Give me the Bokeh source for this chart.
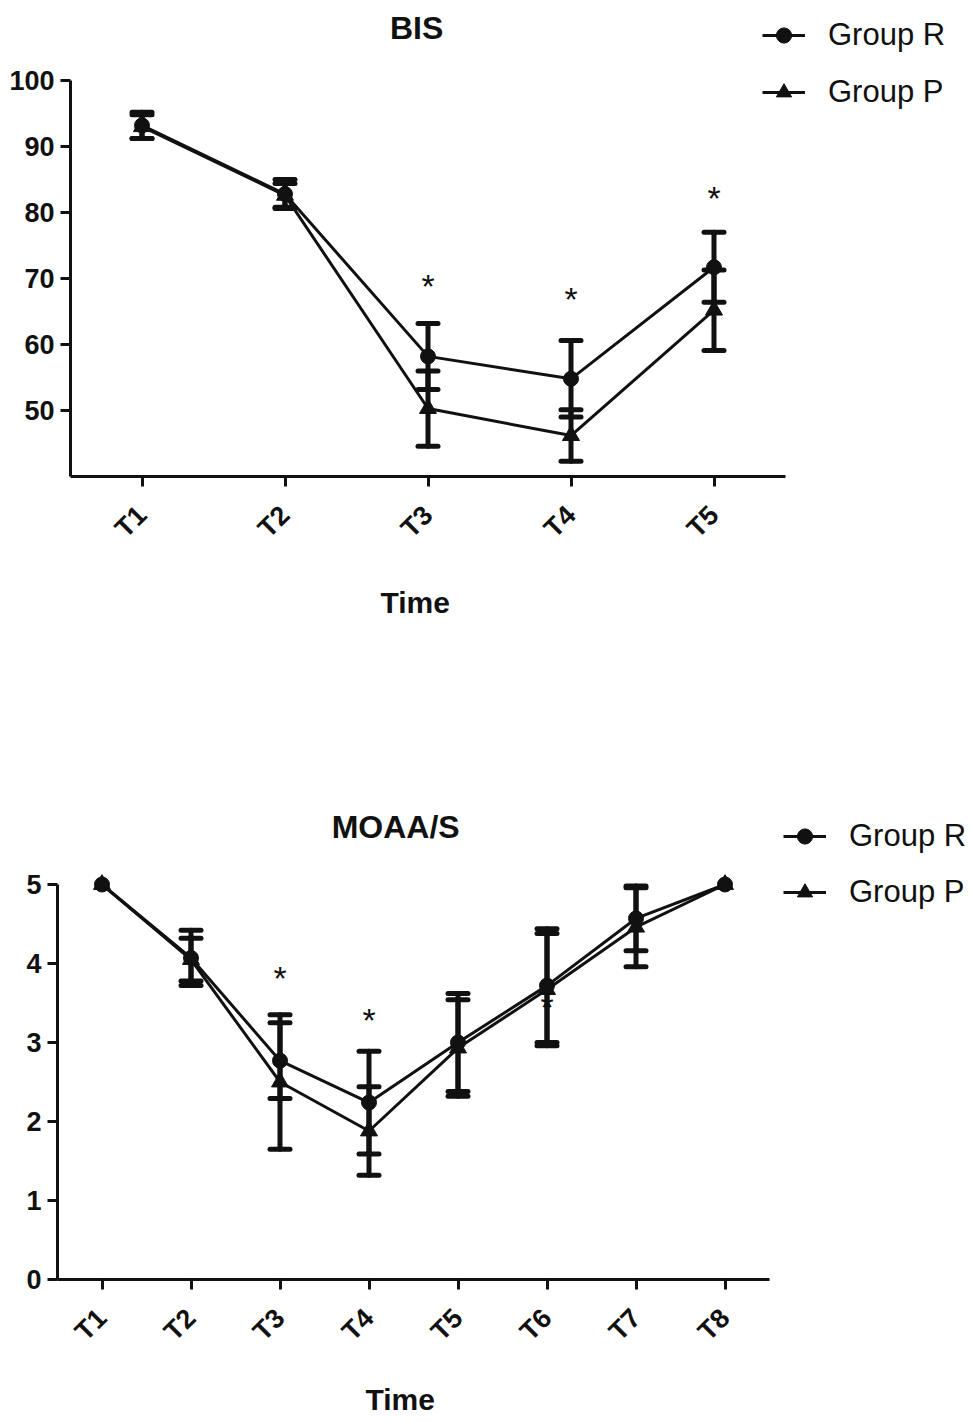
import math
from bokeh.plotting import figure
from bokeh.models import (ColumnDataSource, Whisker, TeeHead, Legend, LegendItem,
                          FixedTicker, Range1d, Label, Title)
from bokeh.embed import file_html
from bokeh.resources import INLINE
from bokeh.core.properties import value

# ---------------- data ----------------
bis_cats = ["T1", "T2", "T3", "T4", "T5"]
bis_r = [93.2, 82.8, 58.2, 54.8, 71.7]
bis_r_sd = [2.0, 2.2, 5.0, 5.8, 5.3]
bis_p = [93.0, 82.6, 50.3, 46.2, 65.2]
bis_p_sd = [1.8, 1.8, 5.7, 3.9, 6.1]
bis_star_cats = ["T3", "T4", "T5"]
bis_star_y = [69.3, 67.4, 82.6]
bis_yticks = [50, 60, 70, 80, 90, 100]

moaa_cats = ["T1", "T2", "T3", "T4", "T5", "T6", "T7", "T8"]
moaa_r = [5.0, 4.07, 2.77, 2.24, 3.00, 3.72, 4.57, 5.0]
moaa_r_sd = [0.0, 0.35, 0.48, 0.65, 0.62, 0.72, 0.41, 0.0]
moaa_p = [5.0, 4.05, 2.50, 1.88, 2.93, 3.67, 4.46, 5.0]
moaa_p_sd = [0.0, 0.27, 0.85, 0.56, 0.61, 0.71, 0.50, 0.0]
moaa_star_cats = ["T3", "T4", "T6"]
moaa_star_y = [3.85, 3.32, 3.49]
moaa_yticks = [0, 1, 2, 3, 4, 5]

group_labels = ["Group R", "Group P"]
x_title = "Time"

FONT = "Liberation Sans"
INK = "#111111"


def make_chart(title, cats, r, r_sd, pv, p_sd, star_cats, star_y, yticks,
               y_start, y_end, y_bound_end, x_end, fw, fh, bl, bb,
               title_xy, legend_loc, legend_spacing, xlabel_offset, xlabel_standoff):
    xs_all = list(range(1, len(cats) + 1))
    pos = {c: i for c, i in zip(cats, xs_all)}
    fig = figure(x_range=Range1d(0.5, x_end), y_range=Range1d(y_start, y_end),
                 frame_width=fw, frame_height=fh,
                 min_border_left=bl, min_border_top=0, min_border_right=0,
                 min_border_bottom=bb, output_backend="svg", toolbar_location=None,
                 background_fill_color="white", border_fill_color="white")
    fig.outline_line_color = None
    fig.xgrid.visible = False
    fig.ygrid.visible = False

    fig.add_layout(Label(x=title_xy[0], y=title_xy[1], text=title, text_font=FONT,
                         text_font_size="32px", text_font_style="bold",
                         text_color=INK, text_align="center", text_baseline="middle"))

    # asterisks
    fig.text(x=[pos[c] for c in star_cats], y=star_y, text=["*"] * len(star_cats),
             text_font=value(FONT), text_font_size="34px", text_align="center",
             text_baseline="middle", text_color=INK, y_offset=3, level="underlay")

    # error bars
    for vals, sds in ((r, r_sd), (pv, p_sd)):
        xs = [x for x, s in zip(xs_all, sds) if s > 0]
        up = [v + s for v, s in zip(vals, sds) if s > 0]
        lo = [v - s for v, s in zip(vals, sds) if s > 0]
        src = ColumnDataSource(dict(x=xs, upper=up, lower=lo))
        w = Whisker(base="x", upper="upper", lower="lower", source=src,
                    line_width=5, line_color=INK, line_cap="round",
                    upper_head=TeeHead(size=20, line_width=5, line_color=INK, line_cap="round"),
                    lower_head=TeeHead(size=20, line_width=5, line_color=INK, line_cap="round"))
        fig.add_layout(w)

    lr = fig.line(xs_all, r, line_width=3, line_color=INK)
    sr = fig.scatter(xs_all, r, marker="circle", size=15, color=INK)
    lp = fig.line(xs_all, pv, line_width=3, line_color=INK)
    sp = fig.scatter(xs_all, pv, marker="triangle", size=17, color=INK)

    legend = Legend(items=[LegendItem(label=group_labels[0], renderers=[lr, sr]),
                           LegendItem(label=group_labels[1], renderers=[lp, sp])],
                    location=legend_loc, padding=0, margin=0, spacing=legend_spacing,
                    glyph_width=43, glyph_height=38, label_height=38,
                    label_standoff=23, label_text_font=FONT,
                    label_text_font_size="31px", label_text_color=INK,
                    border_line_alpha=0, background_fill_alpha=0)
    fig.add_layout(legend, "center")

    for ax in (fig.xaxis[0], fig.yaxis[0]):
        ax.axis_line_width = 3
        ax.axis_line_color = INK
        ax.major_tick_line_width = 3
        ax.major_tick_line_color = INK
        ax.major_tick_out = 10
        ax.major_tick_in = 0
        ax.minor_tick_line_color = None
        ax.major_label_text_font = FONT
        ax.major_label_text_font_style = "bold"
        ax.major_label_text_font_size = "27px"
        ax.major_label_text_color = INK
    fig.yaxis.ticker = FixedTicker(ticks=yticks)
    fig.yaxis.bounds = (y_start, y_bound_end)
    fig.yaxis.major_label_standoff = 6
    fig.xaxis.ticker = FixedTicker(ticks=xs_all)
    fig.xaxis.major_label_overrides = {x: c for x, c in zip(xs_all, cats)}
    fig.xaxis.bounds = (0.5, len(cats) + 0.5)
    fig.xaxis.major_label_orientation = math.pi / 4
    fig.xaxis.major_label_standoff = 24

    fig.add_layout(Title(text=x_title, align="left", offset=xlabel_offset,
                         standoff=xlabel_standoff, text_font=FONT,
                         text_font_size="30px", text_font_style="bold",
                         text_color=INK), "below")
    return fig


top = make_chart("BIS", bis_cats, bis_r, bis_r_sd, bis_p, bis_p_sd,
                 bis_star_cats, bis_star_y, bis_yticks,
                 40, 40 + 476 / 6.6, 100, 0.5 + 900 / 143, 900, 476, 70, 230,
                 (2.92, 108.0), (692, 365), 19, 310, 54)
bottom = make_chart("MOAA/S", moaa_cats, moaa_r, moaa_r_sd, moaa_p, moaa_p_sd,
                    moaa_star_cats, moaa_star_y, moaa_yticks,
                    0, 573 / 79, 5, 0.5 + 913 / 89, 913, 573, 57, 143,
                    (4.30, 5.734), (726, 368), 18, 308, 43)

open("out.html", "w").write(file_html([top, bottom], INLINE))
